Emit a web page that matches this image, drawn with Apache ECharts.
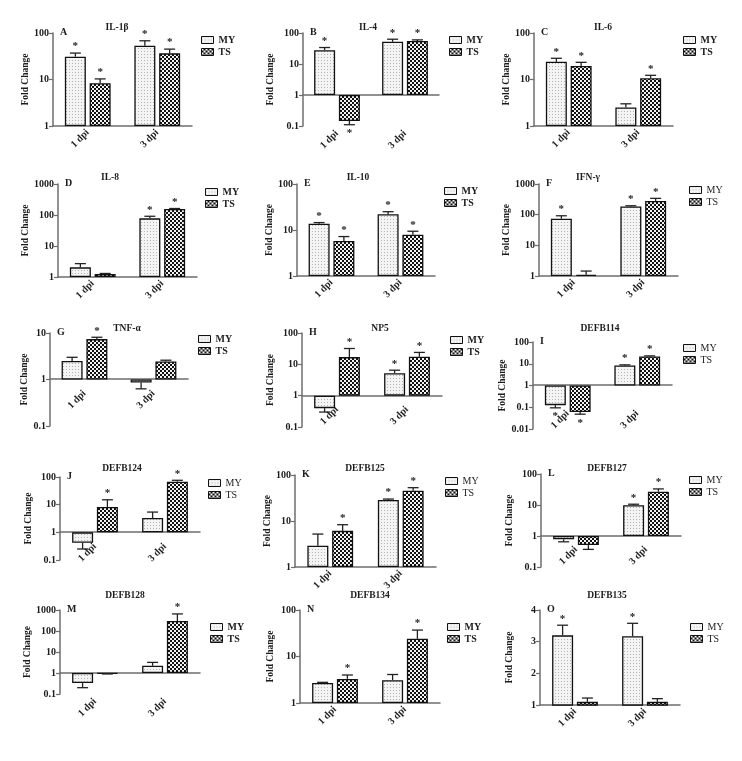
<!DOCTYPE html>
<html><head><meta charset="utf-8">
<script src="https://cdn.jsdelivr.net/npm/echarts@6/dist/echarts.min.js"></script>
<style>html,body{margin:0;padding:0;background:#fff}#c{width:742px;height:761px}</style>
</head><body><div id="c"></div>
<script>
// ---------- data ----------
const categories = ['1 dpi', '3 dpi'];
const seriesNames = ['MY', 'TS'];
const titles = ['IL-1β','IL-4','IL-6','IL-8','IL-10','IFN-γ','TNF-α','NP5','DEFB114','DEFB124','DEFB125','DEFB127','DEFB128','DEFB134','DEFB135'];
const letters = ['A','B','C','D','E','F','G','H','I','J','K','L','M','N','O'];
const yType = ['log','log','log','log','log','log','log','log','log','log','log','log','log','log','value'];
const yMin = [1, 0.1, 1, 1, 1, 1, 0.1, 0.1, 0.01, 0.1, 1, 0.1, 0.1, 1, 1];
const yMax = [100, 100, 100, 1000, 100, 1000, 10, 100, 100, 100, 100, 100, 1000, 100, 4];
// means and error-bar end values, per panel: [1 dpi, 3 dpi]
const myMean = [[31,53],[28,52],[24,2.5],[2.05,78],[13.7,22],[74,186],[2.5,0.86],[0.4,5.2],[0.125,8.3],[0.42,3.3],[2.9,28.6],[0.78,9.8],[0.33,2.2],[2.7,3.1],[3.2,3.17]];
const myErr  = [[37,68],[34,63],[28.6,3.0],[2.7,91],[14.5,25],[92,195],[3.0,0.63],[0.3,6.5],[0.094,8.9],[0.25,5.4],[5.2,30],[0.65,10.6],[0.2,3.2],[2.78,4.1],[3.52,3.58]];
const tsMean = [[8.3,36.5],[0.145,55],[19.5,10.6],[1.25,156],[5.8,7.9],[1.1,280],[7.4,2.44],[17,17.5],[0.06,21.5],[8.2,68],[6.1,45.6],[0.51,27],[0.93,300],[3.3,24],[1.1,1.1]];
const tsErr  = [[10.3,45],[0.11,60],[23.4,12.3],[1.3,162],[7.2,9.4],[1.45,340],[8.1,2.6],[32,24],[0.048,23],[15,76],[8.3,53],[0.37,33],[0.9,650],[4.0,37],[1.22,1.2]];
const myStar = [[1,1],[1,1],[1,0],[0,1],[1,1],[1,1],[0,0],[0,1],[1,1],[0,0],[0,1],[0,1],[0,0],[0,0],[1,1]];
const tsStar = [[1,1],[1,1],[1,1],[0,1],[1,1],[0,1],[1,0],[1,1],[1,1],[1,1],[1,1],[0,1],[0,1],[1,1],[0,0]];

// ---------- layout / style ----------
const layout = [
 {x0:53,x1:192,y0:33,y1:126,tx:117,ty:29,lx:201,ly:40,nc:28,lb:0,lm:5,b:1},
 {x0:303,x1:439,y0:33,y1:126,tx:368,ty:29,lx:449,ly:40,nc:271,lb:1,lm:5,b:1},
 {x0:534,x1:673,y0:33,y1:126,tx:603,ty:29,lx:683,ly:40,nc:510,lb:0,lm:5,b:1},
 {x0:58,x1:197,y0:184,y1:277,tx:110,ty:179,lx:205,ly:192,nc:29,lb:0,lm:5,b:1},
 {x0:297,x1:435,y0:184,y1:276,tx:358,ty:179,lx:444,ly:191,nc:271,lb:0,lm:5,b:1},
 {x0:539,x1:678,y0:184,y1:276,tx:588,ty:179,lx:689,ly:190,nc:510,lb:0,lm:5,b:0},
 {x0:50,x1:188,y0:333,y1:426,tx:127,ty:330,lx:198,ly:339,nc:29,lb:0,lm:13,b:1},
 {x0:302,x1:442,y0:333,y1:427,tx:380,ty:330,lx:450,ly:340,nc:271,lb:0,lm:12,b:1},
 {x0:533,x1:672,y0:342,y1:429,tx:600,ty:330,lx:683,ly:348,nc:510,lb:0,lm:27,b:0},
 {x0:60,x1:200,y0:477,y1:560,tx:122,ty:470,lx:208,ly:483,nc:29,lb:0,lm:13,b:0},
 {x0:295,x1:436,y0:475,y1:567,tx:365,ty:470,lx:445,ly:481,nc:271,lb:0,lm:5,b:0},
 {x0:541,x1:681,y0:474,y1:567,tx:607,ty:470,lx:689,ly:480,nc:510,lb:0,lm:12,b:0},
 {x0:60,x1:200,y0:610,y1:694,tx:125,ty:597,lx:210,ly:627,nc:30,lb:1,lm:5,b:1},
 {x0:300,x1:440,y0:610,y1:703,tx:370,ty:597,lx:447,ly:627,nc:271,lb:0,lm:5,b:1},
 {x0:540,x1:680,y0:610,y1:705,tx:607,ty:597,lx:690,ly:627,nc:510,lb:0,lm:5,b:0}
];
const FONT = '"Liberation Serif", "Times New Roman", serif';
const TXT = '#1c1c1c';
const AXC = '#6e6e6e';
const BAR_W = 21, BAR_GAP = 0.18, CAP = 5.5;
const BAR_OFF = (BAR_W + BAR_W * BAR_GAP) / 2;

function makePattern(size, draw) {
  const c = document.createElement('canvas');
  c.width = c.height = size;
  draw(c.getContext('2d'));
  return { image: c, repeat: 'repeat' };
}
const patMY = makePattern(3, g => { g.fillStyle = '#f4f4f4'; g.fillRect(0,0,3,3); g.fillStyle = '#b3b3b3'; g.fillRect(0,0,1,1); });
const patTS = makePattern(4, g => { g.fillStyle = '#111'; g.fillRect(0,0,4,4); g.fillStyle = '#f4f4f4'; g.fillRect(0,0,2,2); g.fillRect(2,2,2,2); });

function renderErr(params, api) {
  const cat = api.value(0), mean = api.value(1), err = api.value(2), star = api.value(3), side = api.value(4);
  const p0 = api.coord([cat, mean]);
  const p1 = api.coord([cat, err]);
  const x = p0[0] + side * BAR_OFF;
  const up = p1[1] <= p0[1];
  const st = { stroke: '#222', lineWidth: 1.3 };
  const children = [
    { type: 'line', shape: { x1: x, y1: p0[1], x2: x, y2: p1[1] }, style: st },
    { type: 'line', shape: { x1: x - CAP, y1: p1[1], x2: x + CAP, y2: p1[1] }, style: st }
  ];
  if (star) children.push({ type: 'text', style: { text: '*', x: x, y: up ? p1[1] - 1 : p1[1] + 3,
    align: 'center', verticalAlign: up ? 'bottom' : 'top', font: 'bold 11px ' + FONT, fill: TXT } });
  return { type: 'group', children };
}

const grid = [], xAxis = [], yAxis = [], series = [], title = [], legend = [];
for (let i = 0; i < 15; i++) {
  const L = layout[i];
  const h = L.y1 - L.y0;
  grid.push({ left: L.x0, top: L.y0, width: L.x1 - L.x0, height: h, containLabel: false });
  const isLog = yType[i] === 'log';
  const frac = isLog ? Math.log10(1 / yMin[i]) / Math.log10(yMax[i] / yMin[i]) : 0;
  const off = Math.round(h * frac);
  xAxis.push({ type: 'category', gridIndex: i, data: categories, position: 'bottom', offset: -off,
    axisLine: { onZero: false, lineStyle: { color: AXC, width: 1.5 } },
    axisTick: { alignWithLabel: true, length: 4, lineStyle: { color: AXC, width: 1.2 } },
    axisLabel: { rotate: 45, margin: L.lb ? off + 6 : L.lm, fontFamily: FONT, fontWeight: 'bold', fontSize: 10, color: TXT } });
  const ya = { type: yType[i], gridIndex: i, min: yMin[i], max: yMax[i],
    axisLine: { show: true, lineStyle: { color: AXC, width: 1.5 } },
    axisTick: { show: true, length: 4, lineStyle: { color: AXC, width: 1.2 } },
    splitLine: { show: false },
    axisLabel: { margin: 4, fontFamily: FONT, fontWeight: 'bold', fontSize: 10, color: TXT,
      formatter: v => String(+Number(v).toPrecision(4)) },
    name: 'Fold Change', nameLocation: 'middle', nameGap: L.x0 - L.nc - 5,
    nameTextStyle: { fontFamily: FONT, fontWeight: 'bold', fontSize: 9.5, color: TXT } };
  if (isLog) ya.logBase = 10; else ya.interval = 1;
  yAxis.push(ya);
  series.push({ type: 'bar', name: 'MY', xAxisIndex: i, yAxisIndex: i, data: myMean[i], barWidth: BAR_W, barGap: (BAR_GAP * 100) + '%',
    itemStyle: { color: patMY, borderColor: '#111', borderWidth: 1.3 }, silent: true, animation: false });
  series.push({ type: 'bar', name: 'TS', xAxisIndex: i, yAxisIndex: i, data: tsMean[i], barWidth: BAR_W, barGap: (BAR_GAP * 100) + '%',
    itemStyle: { color: patTS, borderColor: '#111', borderWidth: 1.3 }, silent: true, animation: false });
  const eData = [];
  for (let c = 0; c < categories.length; c++) {
    eData.push([c, myMean[i][c], myErr[i][c], myStar[i][c], -1]);
    eData.push([c, tsMean[i][c], tsErr[i][c], tsStar[i][c], 1]);
  }
  series.push({ type: 'custom', name: 'err' + i, xAxisIndex: i, yAxisIndex: i, data: eData, renderItem: renderErr,
    encode: { x: 0, y: 1 }, silent: true, animation: false, z: 5 });
  title.push({ text: titles[i], left: L.tx, top: L.ty - 6, textAlign: 'center', padding: 0,
    textStyle: { fontFamily: FONT, fontWeight: 'bold', fontSize: 9.5, color: TXT } });
  title.push({ text: letters[i], left: L.x0 + 7, top: L.y0 - 6, padding: 0,
    textStyle: { fontFamily: FONT, fontWeight: 'bold', fontSize: 10, color: TXT } });
  legend.push({ data: seriesNames, orient: 'vertical', left: L.lx, top: L.ly - 5, padding: 0,
    itemWidth: 12, itemHeight: 7, itemGap: 2, icon: 'rect', selectedMode: false,
    itemStyle: { borderColor: '#111', borderWidth: 1 },
    textStyle: { fontFamily: FONT, fontSize: 10, lineHeight: 9, fontWeight: L.b ? 'bold' : 'normal', color: TXT } });
}

const chart = echarts.init(document.getElementById('c'), null, { renderer: 'canvas' });
chart.setOption({ animation: false, backgroundColor: '#fff', grid, xAxis, yAxis, series, title, legend });
</script>
</body></html>
